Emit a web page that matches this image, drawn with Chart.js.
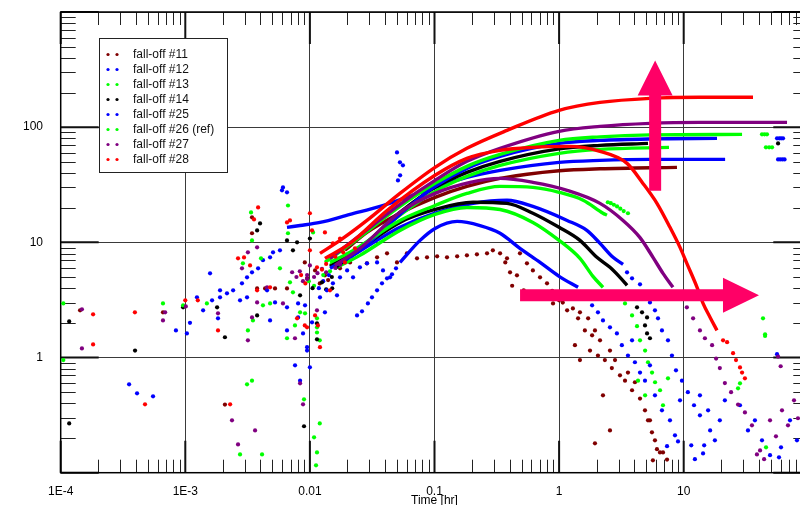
<!DOCTYPE html>
<html><head><meta charset="utf-8">
<script src="https://cdn.jsdelivr.net/npm/chart.js@4.4.1/dist/chart.umd.min.js"></script>
<style>html,body{margin:0;padding:0;overflow:hidden;background:#fff;width:800px;height:505px}canvas{display:block}</style>
</head><body>
<canvas id="c" width="820" height="505"></canvas>
<script>
// ---------- axis ticks ----------
const xTickValues = [1e-4, 1e-3, 0.01, 0.1, 1, 10, 100];
const xTickLabels = ['1E-4', '1E-3', '0.01', '0.1', '1', '10', ''];
const yTickValues = [0.1, 1, 10, 100, 1000];
const yTickLabels = ['', '1', '10', '100', ''];

// ---------- series ----------
const seriesNames = ['fall-off #11', 'fall-off #12', 'fall-off #13', 'fall-off #14', 'fall-off #25', 'fall-off #26 (ref)', 'fall-off #27', 'fall-off #28'];
const seriesColors = ['#800000', '#0000ff', '#00ff00', '#000000', '#0000ff', '#00ff00', '#800080', '#ff0000'];

// [time hr, value]
const f11_dp = [[0.0191,8.53],[0.0287,12.2],[0.0528,17.9],[0.101,24.6],[0.182,30.6],[0.336,35.9],[1.0,41.8],[2.13,43.5],[8.83,44.8]];
const f11_der = [];
const f11_pts = [[1.43e-4,2.57],[6.62e-4,2.47],[2.08e-3,0.39],[3.43e-3,16.5],[3.43e-3,12.0],[3.77e-3,3.98],[4.37e-3,3.98],[5.25e-3,3.98],[6.55e-3,3.98],
 [9.1e-3,6.7],[0.011,5.7],[0.0132,5.17],[0.01745,5.95],[0.021,6.7],[0.0095,4.9],[0.012,4.4],[0.014,4.7],
 [0.0287,6.57],[0.0346,7.41],[0.0416,8.03],[0.05,6.7],[0.0601,8.03],[0.0724,7.26],[0.0871,7.41],[0.105,7.56],[0.126,7.41],[0.152,7.56],[0.182,7.71],[0.219,7.87],[0.264,8.03],[0.294,8.53],[0.336,8.03],[0.382,7.26],[0.404,5.49],[0.459,5.17],[0.485,8.03],[0.552,6.57],[0.616,5.7],[0.703,4.97],[0.8,4.41],[0.894,2.95],[0.944,3.68],[1.07,3.0],[1.22,3.26],[1.29,2.67],[1.47,2.47],[1.71,2.19],[1.61,1.72],[1.84,1.56],[1.77,1.15],[2.05,1.04],[2.33,0.95],[2.65,0.81],[3.08,0.70],[3.38,0.63],[3.85,0.52],[4.46,0.44],[4.89,0.348],[5.17,0.285],[5.56,0.224],[5.88,0.191],[6.45,0.15],[5.66,0.128],[7.35,0.13],[6.82,0.15],[1.94,0.18],[2.56,0.233],[2.25,0.47],[1.34,1.28],[1.47,0.95],
 [0.37,6.7],[0.42,4.2],[0.52,3.83],[0.63,3.6],[0.77,3.3],[0.88,3.8],[1.0,3.14],[1.16,2.57],[1.42,2.19],[1.94,1.72],[2.13,1.41],[2.56,1.15],[2.81,0.95],[3.57,0.74],[4.06,0.61],[5.36,0.285],[6.1,0.16]];

const f12_dp = [[0.00655,13.5],[0.00834,14.0],[0.01205,14.9],[0.021,17.5],[0.0366,20.5],[0.0635,25.1],[0.101,30],[0.182,36.7],[0.336,42.2],[1.0,49.5],[2.13,51.5],[5.36,52.5],[21.5,52.5]];
const f12_der = [[0.021,7.41],[0.0346,10.4],[0.0528,13.5],[0.101,17.9],[0.204,21.8],[0.382,23.2],[0.616,20.5],[1.16,15.5],[1.67,12.7],[2.13,9.8],[2.71,7.41],[3.26,6.44]];
const f12_pts = [[3.54e-4,0.585],[4.1e-4,0.489],[5.51e-4,0.46],[8.41e-4,1.72],[1.09e-3,2.0],[1.24e-3,3.33],[1.58e-3,5.38],[1.9e-3,3.33],[2.16e-3,3.61],[2.75e-3,3.14],[3.13e-3,4.97],[3.43e-3,5.49],[4.2e-3,7.0],[4.79e-3,7.41],[5.06e-3,8.19],[5.75e-3,8.53],[5.97e-3,28.3],[6.08e-3,30],[6.55e-3,27.2],[6.55e-3,2.73],[8.04e-3,2.95],[9.49e-3,1.23],[0.01,0.822],[8.81e-3,1.62],
 [0.0118,4.0],[0.0128,4.6],[0.0142,5.2],
 [0.05,60.4],[0.0528,49.5],[0.0558,46.6],[0.0509,34.5],[0.053,38.2],
 [3.51,5.49],[3.85,4.87],[4.46,4.32],[4.89,3.47],[5.36,3.01],[5.88,2.57],[6.22,2.19],[6.69,1.72],[7.48,1.41],[8.05,1.04],[8.67,0.774],[9.68,0.63],[10.8,0.5],[12.1,0.385],[13.5,0.47],[15.7,0.348],[17.8,0.191],[21.4,0.425],[28.3,0.385],[32.8,0.233],[37.3,0.285],[42.5,0.191],[49.3,0.142],[58.2,0.136],[60.4,0.166],[71.3,0.285],[81.1,0.191],[56.1,1.07],
 [57.2,52.5],[59.5,52.5],[62,52.5],[64.5,52.5]];

const f13_dp = [[0.0145,6.31],[0.0252,9.05],[0.0528,17.2],[0.101,27.7],[0.182,37.4],[0.336,46.6],[1.0,59.3],[2.13,64.2],[7.62,66.8]];
const f13_der = [[0.0159,5.95],[0.0252,7.71],[0.0528,12.7],[0.101,17.5],[0.182,20.1],[0.336,19.3],[0.616,14.9],[1.0,10.4],[1.47,7.26],[1.87,5.07],[2.25,4.07]];
const f13_pts = [[1.05e-4,2.95],[1.05e-4,0.95],[6.62e-4,2.95],[1.49e-3,2.95],[3.18e-3,1.72],[3.49e-3,2.1],[3.13e-3,0.585],[3.43e-3,0.63],[2.75e-3,0.144],[4.13e-3,0.144],[4.2e-3,2.84],[6.92e-3,4.5],[7.31e-3,3.68],[7.59e-3,1.9],[8.34e-3,2.47],[6.55e-3,1.47],[0.0114,1.83],[8.97e-3,0.434],[0.0114,1.65],[0.012,1.41],[0.012,0.268],[0.0108,0.203],[0.0114,0.150],[0.0112,0.116],
 [0.0098,4.6],[0.0108,4.2],[0.0128,5.2],[0.0145,5.6],[0.0165,6.2],[0.019,7.0],
 [2.81,3.4],[3.38,2.95],[3.85,2.32],[4.22,1.87],[4.46,1.41],[4.9,1.15],[5.17,0.91],[5.57,0.74],[5.89,0.61],[6.46,0.52],[4.9,0.47],[4.3,0.63],[6.82,0.385],[7.48,0.66],
 [45.7,66.8],[48.5,66.8],[51.2,66.8]];

const f14_dp = [[0.0145,6.19],[0.0252,8.87],[0.0528,18.2],[0.101,30],[0.182,40.5],[0.336,50.5],[1.0,64.8],[2.13,69.5],[5.17,72.3]];
const f14_der = [[0.0159,5.95],[0.021,7.56],[0.0528,14.9],[0.101,19.3],[0.204,22.3],[0.382,21.8],[0.616,17.9],[1.0,13.5],[1.47,10.4],[2.01,7.41],[2.56,6.07],[3.08,4.97],[3.51,4.24]];
const f14_pts = [[1.17e-4,2.06],[1.17e-4,0.268],[3.95e-4,1.15],[9.6e-4,2.73],[1.8e-3,2.73],[2.08e-3,1.5],[3.77e-3,12.7],[3.98e-3,14.6],[3.77e-3,2.32],[6.55e-3,10.4],[7.31e-3,8.53],[7.89e-3,10],[8.34e-3,3.47],[0.01,10.8],[0.0114,1.98],[0.0114,1.44],[0.0151,3.99],[8.97e-3,0.253],
 [0.0105,4.0],[0.0125,4.5],[0.0135,3.9],[0.015,5.0],
 [3.92,3.47],[4.22,2.73],[4.63,2.47],[5.08,2.23],[4.89,1.9],[5.08,1.62],[5.36,1.47],[57.2,72.3]];

const f25_dp = [[0.0145,5.95],[0.0252,8.53],[0.0528,17.5],[0.101,30.6],[0.182,43.9],[0.336,55.8],[1.0,72.3],[2.13,76.8],[5.36,79.1],[18.5,80]];
const f25_der = [[0.0528,6.7],[0.0766,10.4],[0.101,13.2],[0.152,15.2],[0.232,14.0],[0.336,12.0],[0.485,8.87],[0.703,6.7],[1.0,5.07],[1.42,4.07]];
const f25_pts = [[1.03e-3,1.62],[1.39e-3,2.57],[1.64e-3,3.14],[1.83e-3,2.19],[1.9e-3,3.83],[2.42e-3,3.83],[2.85e-3,4.41],[3.13e-3,3.33],[3.84e-3,5.95],[4.53e-3,3.83],[4.79e-3,2.1],[5.25e-3,3.01],[6.55e-3,1.72],[8.04e-3,2.23],[9.14e-3,2.84],[0.0104,2.02],[0.0132,2.47],[7.6e-3,0.856],[8.34e-3,0.63],[9.49e-3,1.15],
 [0.01745,4.97],[0.0199,5.7],[0.0222,4.97],[0.0252,6.07],[0.0287,6.57],[0.0346,6.7],[0.0386,5.7],[0.044,4.97],[0.0153,4.41],[0.0165,3.47],[0.0137,3.83],[0.01205,3.33],
 [0.0239,2.32],[0.0262,2.52],[0.0292,2.95],[0.0315,3.33],[0.0346,3.83],[0.0379,4.41],[0.0416,4.87],[0.0456,5.28],[0.0491,5.95],
 [1.67,3.33],[1.84,2.84],[2.05,2.47],[2.25,2.1],[2.56,1.83],[2.91,1.62],[3.19,1.28],[3.57,1.04],[3.85,1.41],[4.06,0.91],[4.46,0.74],[4.89,0.63],[5.36,0.856],[5.88,0.47],[6.69,0.348],[7.35,0.17],[7.76,0.285],[8.51,0.211],[9.0,0.187],[9.34,0.425],[11.5,0.173],[12.3,0.131],[13.5,0.315],[14.3,0.147],[14.6,0.173],[16.3,0.233],[19.5,0.285],
 [56.1,80],[58.5,80],[60.5,80],[62.7,80]];

const f26_dp = [[0.0132,6.7],[0.021,9.6],[0.0528,20.5],[0.101,32.5],[0.182,45.7],[0.336,58],[1.0,76.8],[2.13,82.4],[5.36,85.7],[29.4,86.6]];
const f26_der = [[0.0145,6.7],[0.021,8.19],[0.0528,15.5],[0.101,20.9],[0.182,26.6],[0.336,30.6],[0.616,30],[1.0,27.2],[1.56,23.2],[2.25,17.9],[2.42,17.2]];
const f26_pts = [[9.6e-4,2.84],[3.37e-3,18.2],[3.43e-3,10.4],[4.05e-3,7.26],[2.9e-3,6.57],[4.79e-3,2.95],[5.75e-3,5.95],[6.67e-3,20.9],[6.67e-3,12.0],[0.0106,12.2],[9.14e-3,2.42],[0.0114,2.19],
 [2.46,22.3],[2.6,21.9],[2.75,21.2],[2.92,20.5],[3.1,19.6],[3.3,18.7],[3.57,17.9],
 [42.5,86.6],[44.5,86.6],[46.6,86.6],
 [28.3,0.597],[27.3,0.54],[43.3,2.19],[45,1.59],[45,1.54],[45.8,0.166]];

const f27_dp = [[0.0145,7.26],[0.0252,11.5],[0.0528,21.4],[0.101,34.5],[0.182,50.5],[0.336,65.5],[1.0,92],[2.13,101.6],[5.36,108],[13.5,110],[67.5,110]];
const f27_der = [[0.0159,6.31],[0.0252,8.87],[0.0528,18.2],[0.101,26.6],[0.193,33.2],[0.336,35.9],[0.616,33.2],[1.16,28.3],[2.13,21.8],[3.26,15.5],[4.46,11.0],[5.67,7.41],[6.82,5.38],[8.2,4.07]];
const f27_pts = [[1.48e-4,2.62],[1.48e-4,1.2],[6.89e-4,2.47],[6.62e-4,2.1],[1.01e-3,2.78],[1.83e-3,2.42],[2.37e-3,0.285],[2.65e-3,0.176],[3.63e-3,0.233],[3.18e-3,8.19],[3.77e-3,9.05],[2.85e-3,5.95],[3.43e-3,2.23],[3.18e-3,1.41],[3.77e-3,3.01],[4.53e-3,4.07],[6.08e-3,2.95],[7.59e-3,1.47],[8.81e-3,0.392],[8.34e-3,0.597],[0.0114,2.57],[0.01,6.31],[0.0115,5.4],[0.0125,5.9],[8.3e-3,5.6],[9.5e-3,5.2],[0.0108,5.0],
 [0.0072,5.5],[0.0078,5.0],[0.0088,4.6],[0.0095,4.8],[0.0135,5.5],[0.016,6.0],[0.0175,6.4],
 [10.6,2.73],[11.9,2.19],[13.5,1.72],[14.8,1.47],[16.9,1.28],[18.2,0.98],[19.5,0.81],[21.4,0.60],[24,0.50],[27.3,0.39],[31,0.334],[35.3,0.258],[38.7,0.144],[41,0.156],[44.2,0.131],[49.3,0.285],[55,0.207],[61.5,0.348],[68.7,0.258],[76.8,0.425],[82.6,0.297],[57.2,1.02],[60,0.84]];

const f28_dp = [[0.01205,8.03],[0.01745,10.4],[0.0287,15.5],[0.0528,26.6],[0.101,44.8],[0.182,65.5],[0.382,93.8],[1.0,140],[2.13,164],[5.36,178],[13.5,182],[36,182]];
const f28_der = [[0.0132,7.26],[0.021,9.8],[0.0416,18.9],[0.101,38.2],[0.182,53.6],[0.336,62.9],[0.616,66.8],[1.22,68.1],[2.13,61.6],[3.51,48.5],[4.71,32.5],[6.1,21.8],[7.76,13.5],[9.34,9.05],[10.6,6.57],[12.8,4.07],[14.3,2.95],[16.3,2.23],[18.5,1.72]];
const f28_pts = [[1.82e-4,2.37],[1.82e-4,1.30],[3.94e-4,2.47],[4.75e-4,0.392],[1.0e-3,3.14],[1.26e-3,3.14],[1.83e-3,1.72],[2.29e-3,0.392],[2.65e-3,7.26],[2.96e-3,7.4],[3.31e-3,6.31],[3.56e-3,15.8],[3.84e-3,20.1],[3.77e-3,3.83],[4.79e-3,4.07],[6.55e-3,14.9],[6.92e-3,15.5],[7.89e-3,2.19],[9.49e-3,1.83],[0.01,17.9],[0.0104,12.7],[0.01,8.53],[0.0114,6.07],[0.011,2.32],[0.0116,1.9],[0.01205,1.23],[0.0132,12.2],[0.0145,3.83],[0.0153,9.8],[0.01745,10.8],[0.0191,6.7],[0.023,8.87],[9.1e-3,1.9],
 [0.0085,5.2],[0.0092,4.4],[0.0125,5.8],[0.0135,6.5],[0.016,7.5],[0.0185,8.2],
 [20.7,1.41],[22.3,1.36],[24.9,1.09],[26.3,0.95],[28.3,0.82],[29.4,0.74],[31,0.66]];

// annotation arrows (data coordinates)
const arrowUp = {x: 5.9, from: 28, to: 380};
const arrowRight = {y: 3.47, from: 0.486, to: 40.2};
const arrowColor = 'rgb(255,0,102)';

const seriesDp = [f11_dp, f12_dp, f13_dp, f14_dp, f25_dp, f26_dp, f27_dp, f28_dp];
const seriesDer = [f11_der, f12_der, f13_der, f14_der, f25_der, f26_der, f27_der, f28_der];
const seriesPts = [f11_pts, f12_pts, f13_pts, f14_pts, f25_pts, f26_pts, f27_pts, f28_pts];

const FONT = "'Liberation Sans', Arial, Helvetica, sans-serif";
const toXY = arr => arr.map(p => ({x: p[0], y: p[1]}));

const datasets = [];
for (let i = seriesNames.length - 1; i >= 0; i--) {
  const c = seriesColors[i];
  const lineCfg = {showLine: true, borderColor: c, backgroundColor: c, borderWidth: 3.4, pointRadius: 0, cubicInterpolationMode: 'monotone', fill: false};
  if (seriesDp[i].length) datasets.push(Object.assign({label: seriesNames[i] + ' dp', data: toXY(seriesDp[i])}, lineCfg));
  if (seriesDer[i].length) datasets.push(Object.assign({label: seriesNames[i] + ' der', data: toXY(seriesDer[i])}, lineCfg));
  datasets.push({label: seriesNames[i], data: toXY(seriesPts[i]), showLine: false, pointRadius: 2.1, pointBorderWidth: 0, backgroundColor: c, borderColor: c});
}

function decadeIter(lo, hi, fn) {
  for (let d = lo; d < hi * 0.999; d *= 10) for (let k = 2; k <= 9; k++) fn(k * d);
}

const framePlugin = {
  id: 'frame',
  beforeDatasetsDraw(chart) {
    const {ctx, chartArea: a, scales: {x, y}} = chart;
    ctx.save();
    ctx.strokeStyle = '#222';
    ctx.lineWidth = 1;
    ctx.beginPath();
    decadeIter(1e-4, 100, v => {
      const px = Math.round(x.getPixelForValue(v)) + 0.5;
      ctx.moveTo(px, a.bottom); ctx.lineTo(px, a.bottom - 13);
      ctx.moveTo(px, a.top); ctx.lineTo(px, a.top + 13);
    });
    decadeIter(0.1, 1000, v => {
      const py = Math.round(y.getPixelForValue(v)) + 0.5;
      ctx.moveTo(a.left, py); ctx.lineTo(a.left + 15, py);
      ctx.moveTo(a.right, py); ctx.lineTo(a.right - 15, py);
    });
    ctx.stroke();
    ctx.lineWidth = 2;
    ctx.strokeStyle = '#111';
    ctx.beginPath();
    xTickValues.forEach(v => {
      const px = x.getPixelForValue(v);
      ctx.moveTo(px, a.bottom); ctx.lineTo(px, a.bottom - 32);
      ctx.moveTo(px, a.top); ctx.lineTo(px, a.top + 32);
    });
    yTickValues.forEach(v => {
      const py = y.getPixelForValue(v);
      ctx.moveTo(a.left, py); ctx.lineTo(a.left + 38, py);
      ctx.moveTo(a.right, py); ctx.lineTo(a.right - 35, py);
    });
    ctx.stroke();
    ctx.lineWidth = 1.5;
    ctx.strokeStyle = '#000';
    ctx.strokeRect(a.left, a.top, a.right - a.left, a.bottom - a.top);
    ctx.restore();
  },
  afterDatasetsDraw(chart) {
    const {ctx, scales: {x, y}} = chart;
    ctx.save();
    ctx.fillStyle = arrowColor;
    let cx = x.getPixelForValue(arrowUp.x), y0 = y.getPixelForValue(arrowUp.from), y1 = y.getPixelForValue(arrowUp.to);
    const sw = 6, hw = 17.5, hl = 35;
    ctx.beginPath();
    ctx.moveTo(cx - sw, y0); ctx.lineTo(cx - sw, y1 + hl); ctx.lineTo(cx - hw, y1 + hl); ctx.lineTo(cx, y1);
    ctx.lineTo(cx + hw, y1 + hl); ctx.lineTo(cx + sw, y1 + hl); ctx.lineTo(cx + sw, y0); ctx.closePath(); ctx.fill();
    let cy = y.getPixelForValue(arrowRight.y), x0 = x.getPixelForValue(arrowRight.from), x1 = x.getPixelForValue(arrowRight.to);
    ctx.beginPath();
    ctx.moveTo(x0, cy - sw); ctx.lineTo(x1 - 36, cy - sw); ctx.lineTo(x1 - 36, cy - hw); ctx.lineTo(x1, cy);
    ctx.lineTo(x1 - 36, cy + hw); ctx.lineTo(x1 - 36, cy + sw); ctx.lineTo(x0, cy + sw); ctx.closePath(); ctx.fill();
    ctx.restore();
  },
  afterDraw(chart) {
    const {ctx} = chart;
    ctx.save();
    const bx = 99.5, by = 38.5, bw = 128, bh = 134;
    ctx.fillStyle = '#fff';
    ctx.fillRect(bx, by, bw, bh);
    ctx.strokeStyle = '#222';
    ctx.lineWidth = 1;
    ctx.strokeRect(bx, by, bw, bh);
    ctx.font = '12px ' + FONT;
    ctx.textBaseline = 'middle';
    ctx.textAlign = 'left';
    seriesNames.forEach((n, i) => {
      const yy = 54.5 + i * 15;
      ctx.fillStyle = seriesColors[i];
      [108, 117].forEach(xx => { ctx.beginPath(); ctx.arc(xx, yy, 1.6, 0, Math.PI * 2); ctx.fill(); });
      ctx.fillStyle = '#111';
      ctx.fillText(n, 133, yy + 0.5);
    });
    ctx.restore();
  }
};

new Chart(document.getElementById('c'), {
  type: 'scatter',
  data: {datasets},
  plugins: [framePlugin],
  options: {
    responsive: false, animation: false, devicePixelRatio: 1,
    layout: {padding: {top: 12, right: 11.7, left: 0, bottom: 0}},
    plugins: {legend: {display: false}, tooltip: {enabled: false}},
    scales: {
      x: {
        type: 'logarithmic', min: 1e-4, max: 100, position: 'bottom',
        afterBuildTicks: s => { s.ticks = xTickValues.map(v => ({value: v})); },
        afterFit: s => { s.height = 32.3; s.paddingLeft = 0; s.paddingRight = 0; },
        grid: {color: '#3a3a3a', lineWidth: 1, drawTicks: false},
        border: {display: false},
        ticks: {padding: 12, autoSkip: false, maxRotation: 0, color: '#000', font: {family: FONT, size: 12},
          callback: v => { const i = xTickValues.findIndex(t => Math.abs(Math.log10(t) - Math.log10(v)) < 1e-6); return i >= 0 ? xTickLabels[i] : ''; }},
        title: {display: true, text: 'Time [hr]', color: '#000', font: {family: FONT, size: 12, lineHeight: 1}, padding: {top: 0, bottom: -2}}
      },
      y: {
        type: 'logarithmic', min: 0.1, max: 1000,
        afterBuildTicks: s => { s.ticks = yTickValues.map(v => ({value: v})); },
        afterFit: s => { s.width = 60.7; s.paddingTop = 0; s.paddingBottom = 0; },
        grid: {color: '#3a3a3a', lineWidth: 1, drawTicks: false},
        border: {display: false},
        ticks: {padding: 17.7, autoSkip: false, color: '#000', font: {family: FONT, size: 12}, labelOffset: 0,
          callback: v => { const i = yTickValues.findIndex(t => Math.abs(Math.log10(t) - Math.log10(v)) < 1e-6); return i >= 0 ? yTickLabels[i] : ''; }}
      }
    }
  }
});
</script>
</body></html>
